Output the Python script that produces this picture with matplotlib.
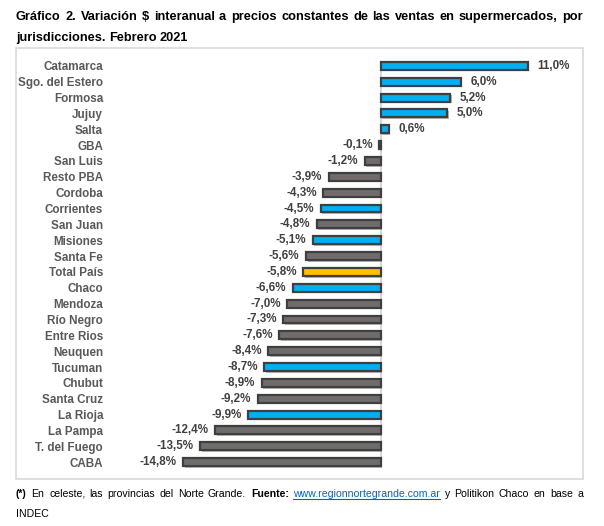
import matplotlib
matplotlib.use("Agg")
import matplotlib.pyplot as plt
import matplotlib.patheffects as pe
from matplotlib.patches import Rectangle
from matplotlib import font_manager as fm

fuentes = {}
for f in fm.findSystemFonts():
    nombre = f.split('/')[-1]
    if nombre in ('LiberationSans-Regular.ttf', 'LiberationSans-Bold.ttf'):
        fuentes[nombre] = f

def fp(weight, size):
    key = 'LiberationSans-Bold.ttf' if weight == 'bold' else 'LiberationSans-Regular.ttf'
    if key in fuentes:
        return fm.FontProperties(fname=fuentes[key], size=size)
    return fm.FontProperties(family='DejaVu Sans', weight=weight, size=size)

# data
jurisdicciones = ['Catamarca', 'Sgo. del Estero', 'Formosa', 'Jujuy', 'Salta', 'GBA', 'San Luis',
                  'Resto PBA', 'Cordoba', 'Corrientes', 'San Juan', 'Misiones', 'Santa Fe',
                  'Total País', 'Chaco', 'Mendoza', 'Río Negro', 'Entre Rios', 'Neuquen',
                  'Tucuman', 'Chubut', 'Santa Cruz', 'La Rioja', 'La Pampa', 'T. del Fuego', 'CABA']
variacion = [11.0, 6.0, 5.2, 5.0, 0.6, -0.1, -1.2, -3.9, -4.3, -4.5, -4.8, -5.1, -5.6,
             -5.8, -6.6, -7.0, -7.3, -7.6, -8.4, -8.7, -8.9, -9.2, -9.9, -12.4, -13.5, -14.8]
norte_grande = ['Catamarca', 'Sgo. del Estero', 'Formosa', 'Jujuy', 'Salta', 'Corrientes',
                'Misiones', 'Chaco', 'Tucuman', 'La Rioja']

W, H = 604, 526
fig = plt.figure(figsize=(W / 100, H / 100), dpi=100)

def fx(px):
    return px / W

def fy(py):
    return 1 - py / H

# frame around the chart
fig.patches.append(Rectangle((fx(16), fy(479)), fx(583) - fx(16), fy(48) - fy(479),
                             transform=fig.transFigure, fill=False, ec='#D9D9D9', lw=1.2))

ax = fig.add_axes([fx(167), fy(478), fx(581) - fx(167), fy(50) - fy(478)])

colores = []
for j in jurisdicciones:
    if j == 'Total País':
        colores.append('#FFC000')
    elif j in norte_grande:
        colores.append('#00B0F0')
    else:
        colores.append('#706C6C')

y = list(range(len(jurisdicciones)))
ax.axvline(0, ymin=0.03, ymax=0.97, color='#D0D0D0', lw=1.2, zorder=1)
bars = ax.barh(y, variacion, height=0.5, color=colores, edgecolor='#3F3F3F', lw=1.6, zorder=2)
for b in bars:
    b.set_path_effects([pe.SimplePatchShadow(offset=(1.2, -1.2), shadow_rgbFace='#9A9A9A', alpha=0.7),
                        pe.Normal()])

for yi, v in zip(y, variacion):
    txt = f'{v:.1f}%'.replace('.', ',')
    if v >= 0:
        ax.text(v + 0.7, yi, txt, ha='left', va='center', fontproperties=fp('bold', 8.4), color='#404040')
    else:
        ax.text(v - 0.5, yi, txt, ha='right', va='center', fontproperties=fp('bold', 8.4), color='#404040')

ax.set_xlim(-16, 15)
ax.set_ylim(26, -1)
ax.set_yticks(y)
ax.set_yticklabels(jurisdicciones, fontproperties=fp('bold', 8.4), color='#595959')
ax.tick_params(axis='y', length=0, pad=46)
ax.set_xticks([])
for s in ax.spines.values():
    s.set_visible(False)

renderer = fig.canvas.get_renderer()

def justified(words, y_px, x0=16, x1=583, size=9, justify=True):
    # words: list of (text, weight, color, underline)
    items = []
    for w, weight, color, under in words:
        t = fig.text(0, fy(y_px), w, fontproperties=fp(weight, size), color=color,
                     va='baseline', ha='left', parse_math=False)
        items.append((t, t.get_window_extent(renderer).width, under, color))
    total = sum(it[1] for it in items)
    if justify and len(items) > 1:
        gap = (x1 - x0 - total) / (len(items) - 1)
    else:
        sp = fig.text(0, 0, 'a a', fontproperties=fp('bold', size))
        sa = fig.text(0, 0, 'aa', fontproperties=fp('bold', size))
        gap = sp.get_window_extent(renderer).width - sa.get_window_extent(renderer).width
        sp.remove()
        sa.remove()
    x = x0
    for t, w, under, color in items:
        t.set_x(fx(round(x)))
        if under:
            fig.add_artist(plt.Line2D([fx(x), fx(x + w)], [fy(y_px + 2), fy(y_px + 2)], color=color, lw=0.8))
        x += w + gap

t1 = 'Gráfico 2. Variación $ interanual a precios constantes de las ventas en supermercados, por'
justified([(w, 'bold', '#000000', False) for w in t1.split()], 20, size=9.2)
justified([(w, 'bold', '#000000', False) for w in 'jurisdicciones. Febrero 2021'.split()], 41,
          size=9.2, justify=False)

nota = [('(*)', 'bold', '#000000', False)]
nota += [(w, 'normal', '#000000', False) for w in 'En celeste, las provincias del Norte Grande.'.split()]
nota += [('Fuente:', 'bold', '#000000', False), ('www.regionnortegrande.com.ar', 'normal', '#0563C1', True)]
nota += [(w, 'normal', '#000000', False) for w in 'y Politikon Chaco en base a'.split()]
justified(nota, 497, size=7.6)
justified([('INDEC', 'normal', '#000000', False)], 517, size=7.6, justify=False)

fig.savefig('out.png', dpi=100)
